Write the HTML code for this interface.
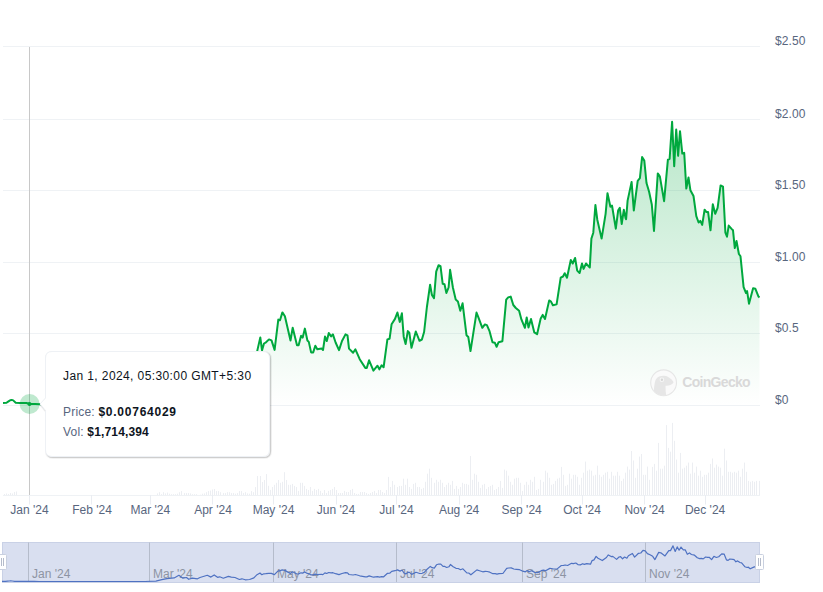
<!DOCTYPE html>
<html><head><meta charset="utf-8"><style>
html,body{margin:0;padding:0;background:#fff;width:823px;height:592px;overflow:hidden}
svg{display:block}
</style></head><body>
<svg width="823" height="592" viewBox="0 0 823 592">
<defs>
<linearGradient id="gf" x1="0" y1="120" x2="0" y2="406" gradientUnits="userSpaceOnUse">
<stop offset="0" stop-color="#00a83e" stop-opacity="0.28"/>
<stop offset="1" stop-color="#00a83e" stop-opacity="0"/>
</linearGradient>
<filter id="sh" x="-10%" y="-10%" width="120%" height="130%">
<feDropShadow dx="1" dy="2" stdDeviation="1.2" flood-color="#000" flood-opacity="0.18"/>
</filter>
</defs>
<rect width="823" height="592" fill="#fff"/>
<g stroke="#eff2f5" stroke-width="1"><line x1="3" x2="760" y1="405.5" y2="405.5"/><line x1="3" x2="760" y1="333.5" y2="333.5"/><line x1="3" x2="760" y1="262.5" y2="262.5"/><line x1="3" x2="760" y1="190.5" y2="190.5"/><line x1="3" x2="760" y1="119.5" y2="119.5"/><line x1="3" x2="760" y1="46.5" y2="46.5"/></g>
<g fill="#eceef2"><rect x="4" y="494" width="1" height="1"/><rect x="6" y="493.5" width="1" height="1.5"/><rect x="8" y="494" width="1" height="1"/><rect x="10" y="493" width="1" height="2"/><rect x="12" y="493.5" width="1" height="1.5"/><rect x="14" y="492" width="1" height="3"/><rect x="16" y="491.5" width="1" height="3.5"/><rect x="157" y="493.4" width="1" height="1.6"/><rect x="159" y="492.2" width="1" height="2.8"/><rect x="161" y="494.2" width="1" height="0.8"/><rect x="163" y="492.2" width="1" height="2.8"/><rect x="165" y="493.4" width="1" height="1.6"/><rect x="167" y="492.6" width="1" height="2.4"/><rect x="169" y="493.7" width="1" height="1.3"/><rect x="171" y="494.2" width="1" height="0.8"/><rect x="173" y="494.2" width="1" height="0.8"/><rect x="175" y="494.2" width="1" height="0.8"/><rect x="177" y="493.7" width="1" height="1.3"/><rect x="179" y="492.2" width="1" height="2.8"/><rect x="181" y="491.1" width="1" height="3.9"/><rect x="184" y="493.1" width="1" height="1.9"/><rect x="186" y="493.1" width="1" height="1.9"/><rect x="188" y="493.1" width="1" height="1.9"/><rect x="190" y="493.4" width="1" height="1.6"/><rect x="192" y="494.2" width="1" height="0.8"/><rect x="194" y="494.2" width="1" height="0.8"/><rect x="196" y="494.2" width="1" height="0.8"/><rect x="200" y="494.7" width="1" height="0.3"/><rect x="202" y="493.7" width="1" height="1.3"/><rect x="204" y="493.4" width="1" height="1.6"/><rect x="206" y="492.2" width="1" height="2.8"/><rect x="208" y="491.1" width="1" height="3.9"/><rect x="210" y="490.6" width="1" height="4.4"/><rect x="212" y="489.5" width="1" height="5.5"/><rect x="214" y="489" width="1" height="6"/><rect x="216" y="491.1" width="1" height="3.9"/><rect x="218" y="491.1" width="1" height="3.9"/><rect x="220" y="492.2" width="1" height="2.8"/><rect x="223" y="493.1" width="1" height="1.9"/><rect x="225" y="493.1" width="1" height="1.9"/><rect x="227" y="492.2" width="1" height="2.8"/><rect x="229" y="492.2" width="1" height="2.8"/><rect x="231" y="493.1" width="1" height="1.9"/><rect x="233" y="493.1" width="1" height="1.9"/><rect x="235" y="493.7" width="1" height="1.3"/><rect x="237" y="493.1" width="1" height="1.9"/><rect x="239" y="491.1" width="1" height="3.9"/><rect x="241" y="491.1" width="1" height="3.9"/><rect x="243" y="493.1" width="1" height="1.9"/><rect x="245" y="492.2" width="1" height="2.8"/><rect x="247" y="493.4" width="1" height="1.6"/><rect x="249" y="493.7" width="1" height="1.3"/><rect x="251" y="491.1" width="1" height="3.9"/><rect x="253" y="492.2" width="1" height="2.8"/><rect x="255" y="487.1" width="1" height="7.9"/><rect x="257" y="476" width="1" height="19"/><rect x="260" y="476" width="1" height="19"/><rect x="262" y="482" width="1" height="13"/><rect x="264" y="480" width="1" height="15"/><rect x="266" y="474.1" width="1" height="20.9"/><rect x="268" y="485.8" width="1" height="9.2"/><rect x="270" y="489.9" width="1" height="5.1"/><rect x="272" y="487" width="1" height="8"/><rect x="274" y="484.8" width="1" height="10.2"/><rect x="276" y="482.8" width="1" height="12.2"/><rect x="278" y="480" width="1" height="15"/><rect x="280" y="482.8" width="1" height="12.2"/><rect x="282" y="481.8" width="1" height="13.2"/><rect x="284" y="472.2" width="1" height="22.8"/><rect x="286" y="480" width="1" height="15"/><rect x="288" y="484.8" width="1" height="10.2"/><rect x="290" y="484.8" width="1" height="10.2"/><rect x="292" y="483.9" width="1" height="11.1"/><rect x="294" y="485.9" width="1" height="9.1"/><rect x="296" y="487" width="1" height="8"/><rect x="298" y="490.9" width="1" height="4.1"/><rect x="300" y="482.8" width="1" height="12.2"/><rect x="302" y="482.8" width="1" height="12.2"/><rect x="304" y="485.9" width="1" height="9.1"/><rect x="306" y="488.9" width="1" height="6.1"/><rect x="308" y="490" width="1" height="5"/><rect x="310" y="487" width="1" height="8"/><rect x="312" y="490.9" width="1" height="4.1"/><rect x="314" y="488.9" width="1" height="6.1"/><rect x="316" y="490" width="1" height="5"/><rect x="318" y="488.9" width="1" height="6.1"/><rect x="320" y="490.9" width="1" height="4.1"/><rect x="322" y="493" width="1" height="2"/><rect x="324" y="490" width="1" height="5"/><rect x="326" y="493" width="1" height="2"/><rect x="328" y="490.9" width="1" height="4.1"/><rect x="330" y="490" width="1" height="5"/><rect x="332" y="488.9" width="1" height="6.1"/><rect x="334" y="487" width="1" height="8"/><rect x="336" y="490" width="1" height="5"/><rect x="338" y="493" width="1" height="2"/><rect x="340" y="493" width="1" height="2"/><rect x="342" y="493" width="1" height="2"/><rect x="344" y="490.9" width="1" height="4.1"/><rect x="346" y="492" width="1" height="3"/><rect x="348" y="492" width="1" height="3"/><rect x="350" y="490" width="1" height="5"/><rect x="352" y="488.9" width="1" height="6.1"/><rect x="354" y="493" width="1" height="2"/><rect x="356" y="493.9" width="1" height="1.1"/><rect x="358" y="493.9" width="1" height="1.1"/><rect x="360" y="492" width="1" height="3"/><rect x="362" y="492" width="1" height="3"/><rect x="364" y="492" width="1" height="3"/><rect x="366" y="493" width="1" height="2"/><rect x="368" y="493.9" width="1" height="1.1"/><rect x="370" y="493" width="1" height="2"/><rect x="372" y="492" width="1" height="3"/><rect x="374" y="490.9" width="1" height="4.1"/><rect x="376" y="493" width="1" height="2"/><rect x="378" y="490" width="1" height="5"/><rect x="380" y="490" width="1" height="5"/><rect x="382" y="492" width="1" height="3"/><rect x="384" y="493" width="1" height="2"/><rect x="386" y="490" width="1" height="5"/><rect x="388" y="476.9" width="1" height="18.1"/><rect x="390" y="487" width="1" height="8"/><rect x="392" y="480.9" width="1" height="14.1"/><rect x="394" y="484.8" width="1" height="10.2"/><rect x="397" y="487" width="1" height="8"/><rect x="399" y="485.9" width="1" height="9.1"/><rect x="401" y="485.9" width="1" height="9.1"/><rect x="403" y="478.7" width="1" height="16.3"/><rect x="405" y="484.8" width="1" height="10.2"/><rect x="407" y="478.7" width="1" height="16.3"/><rect x="409" y="487" width="1" height="8"/><rect x="411" y="488.9" width="1" height="6.1"/><rect x="413" y="483.9" width="1" height="11.1"/><rect x="415" y="482.8" width="1" height="12.2"/><rect x="417" y="487" width="1" height="8"/><rect x="419" y="487" width="1" height="8"/><rect x="421" y="488.9" width="1" height="6.1"/><rect x="423" y="487.9" width="1" height="7.1"/><rect x="425" y="481.8" width="1" height="13.2"/><rect x="427" y="473.7" width="1" height="21.3"/><rect x="429" y="468.7" width="1" height="26.3"/><rect x="431" y="477.8" width="1" height="17.2"/><rect x="434" y="482.8" width="1" height="12.2"/><rect x="436" y="479.8" width="1" height="15.2"/><rect x="438" y="481.8" width="1" height="13.2"/><rect x="440" y="479.8" width="1" height="15.2"/><rect x="442" y="482.8" width="1" height="12.2"/><rect x="444" y="487" width="1" height="8"/><rect x="446" y="484.8" width="1" height="10.2"/><rect x="448" y="482.8" width="1" height="12.2"/><rect x="450" y="484.8" width="1" height="10.2"/><rect x="452" y="480.9" width="1" height="14.1"/><rect x="454" y="488.9" width="1" height="6.1"/><rect x="456" y="485.9" width="1" height="9.1"/><rect x="458" y="488.9" width="1" height="6.1"/><rect x="460" y="487" width="1" height="8"/><rect x="462" y="482.8" width="1" height="12.2"/><rect x="464" y="483.9" width="1" height="11.1"/><rect x="466" y="483.9" width="1" height="11.1"/><rect x="468" y="484.8" width="1" height="10.2"/><rect x="470" y="456" width="1" height="39"/><rect x="472" y="479.8" width="1" height="15.2"/><rect x="474" y="473.7" width="1" height="21.3"/><rect x="476" y="474.8" width="1" height="20.2"/><rect x="478" y="481.8" width="1" height="13.2"/><rect x="480" y="487.9" width="1" height="7.1"/><rect x="482" y="484.8" width="1" height="10.2"/><rect x="484" y="483.9" width="1" height="11.1"/><rect x="486" y="488.9" width="1" height="6.1"/><rect x="488" y="487" width="1" height="8"/><rect x="490" y="485.9" width="1" height="9.1"/><rect x="492" y="484.8" width="1" height="10.2"/><rect x="494" y="490" width="1" height="5"/><rect x="496" y="488.9" width="1" height="6.1"/><rect x="498" y="487" width="1" height="8"/><rect x="500" y="480.9" width="1" height="14.1"/><rect x="502" y="487.9" width="1" height="7.1"/><rect x="504" y="469.6" width="1" height="25.4"/><rect x="506" y="470.7" width="1" height="24.3"/><rect x="508" y="475.7" width="1" height="19.3"/><rect x="510" y="481.8" width="1" height="13.2"/><rect x="512" y="484.8" width="1" height="10.2"/><rect x="514" y="478.7" width="1" height="16.3"/><rect x="516" y="477.8" width="1" height="17.2"/><rect x="518" y="477.8" width="1" height="17.2"/><rect x="520" y="482.8" width="1" height="12.2"/><rect x="522" y="490.9" width="1" height="4.1"/><rect x="524" y="484.8" width="1" height="10.2"/><rect x="526" y="481.8" width="1" height="13.2"/><rect x="528" y="484.8" width="1" height="10.2"/><rect x="530" y="479.8" width="1" height="15.2"/><rect x="532" y="481.8" width="1" height="13.2"/><rect x="534" y="476.8" width="1" height="18.2"/><rect x="536" y="490" width="1" height="5"/><rect x="538" y="488.9" width="1" height="6.1"/><rect x="540" y="479.8" width="1" height="15.2"/><rect x="543" y="481.8" width="1" height="13.2"/><rect x="545" y="470.7" width="1" height="24.3"/><rect x="547" y="472.7" width="1" height="22.3"/><rect x="549" y="477.8" width="1" height="17.2"/><rect x="551" y="484.8" width="1" height="10.2"/><rect x="553" y="483.9" width="1" height="11.1"/><rect x="555" y="480.9" width="1" height="14.1"/><rect x="557" y="478.7" width="1" height="16.3"/><rect x="559" y="477.8" width="1" height="17.2"/><rect x="561" y="466.9" width="1" height="28.1"/><rect x="563" y="474.8" width="1" height="20.2"/><rect x="565" y="485.9" width="1" height="9.1"/><rect x="567" y="484.8" width="1" height="10.2"/><rect x="569" y="473.7" width="1" height="21.3"/><rect x="571" y="478.7" width="1" height="16.3"/><rect x="573" y="474.8" width="1" height="20.2"/><rect x="575" y="474.8" width="1" height="20.2"/><rect x="577" y="476.8" width="1" height="18.2"/><rect x="579" y="484.8" width="1" height="10.2"/><rect x="581" y="477.8" width="1" height="17.2"/><rect x="583" y="472.7" width="1" height="22.3"/><rect x="585" y="461.6" width="1" height="33.4"/><rect x="587" y="470.7" width="1" height="24.3"/><rect x="589" y="469.6" width="1" height="25.4"/><rect x="591" y="470.7" width="1" height="24.3"/><rect x="593" y="475.7" width="1" height="19.3"/><rect x="595" y="474.8" width="1" height="20.2"/><rect x="597" y="465.7" width="1" height="29.3"/><rect x="599" y="474.8" width="1" height="20.2"/><rect x="601" y="476.8" width="1" height="18.2"/><rect x="603" y="474.8" width="1" height="20.2"/><rect x="605" y="472.7" width="1" height="22.3"/><rect x="607" y="471.8" width="1" height="23.2"/><rect x="609" y="478.7" width="1" height="16.3"/><rect x="611" y="471.8" width="1" height="23.2"/><rect x="613" y="475.7" width="1" height="19.3"/><rect x="615" y="475.7" width="1" height="19.3"/><rect x="617" y="471.8" width="1" height="23.2"/><rect x="619" y="475.7" width="1" height="19.3"/><rect x="621" y="480.9" width="1" height="14.1"/><rect x="623" y="478.7" width="1" height="16.3"/><rect x="625" y="472.7" width="1" height="22.3"/><rect x="627" y="466.6" width="1" height="28.4"/><rect x="629" y="469.6" width="1" height="25.4"/><rect x="631" y="451" width="1" height="44"/><rect x="633" y="460.5" width="1" height="34.5"/><rect x="635" y="477.8" width="1" height="17.2"/><rect x="637" y="468.7" width="1" height="26.3"/><rect x="639" y="456.6" width="1" height="38.4"/><rect x="641" y="454" width="1" height="41"/><rect x="643" y="474.8" width="1" height="20.2"/><rect x="645" y="474.8" width="1" height="20.2"/><rect x="647" y="466.6" width="1" height="28.4"/><rect x="649" y="479.8" width="1" height="15.2"/><rect x="652" y="466.9" width="1" height="28.1"/><rect x="654" y="463.9" width="1" height="31.1"/><rect x="656" y="470.7" width="1" height="24.3"/><rect x="658" y="442.9" width="1" height="52.1"/><rect x="660" y="468.7" width="1" height="26.3"/><rect x="662" y="468.7" width="1" height="26.3"/><rect x="664" y="465.7" width="1" height="29.3"/><rect x="666" y="425.1" width="1" height="69.9"/><rect x="668" y="447.9" width="1" height="47.1"/><rect x="670" y="451.7" width="1" height="43.3"/><rect x="672" y="422.9" width="1" height="72.1"/><rect x="674" y="440.8" width="1" height="54.2"/><rect x="676" y="459.6" width="1" height="35.4"/><rect x="678" y="472.7" width="1" height="22.3"/><rect x="680" y="452.9" width="1" height="42.1"/><rect x="682" y="468.7" width="1" height="26.3"/><rect x="684" y="467.7" width="1" height="27.3"/><rect x="686" y="465.7" width="1" height="29.3"/><rect x="688" y="462.6" width="1" height="32.4"/><rect x="690" y="473.7" width="1" height="21.3"/><rect x="692" y="462.6" width="1" height="32.4"/><rect x="694" y="472.7" width="1" height="22.3"/><rect x="696" y="466.6" width="1" height="28.4"/><rect x="698" y="475.7" width="1" height="19.3"/><rect x="700" y="470.7" width="1" height="24.3"/><rect x="702" y="476.8" width="1" height="18.2"/><rect x="704" y="474.8" width="1" height="20.2"/><rect x="706" y="474.8" width="1" height="20.2"/><rect x="708" y="472.7" width="1" height="22.3"/><rect x="710" y="463.9" width="1" height="31.1"/><rect x="712" y="458.5" width="1" height="36.5"/><rect x="714" y="467.7" width="1" height="27.3"/><rect x="716" y="464.6" width="1" height="30.4"/><rect x="718" y="466.6" width="1" height="28.4"/><rect x="720" y="467.7" width="1" height="27.3"/><rect x="722" y="475.7" width="1" height="19.3"/><rect x="724" y="448.7" width="1" height="46.3"/><rect x="726" y="460.5" width="1" height="34.5"/><rect x="728" y="471.8" width="1" height="23.2"/><rect x="730" y="471.8" width="1" height="23.2"/><rect x="732" y="472.7" width="1" height="22.3"/><rect x="734" y="471.8" width="1" height="23.2"/><rect x="736" y="472.7" width="1" height="22.3"/><rect x="738" y="470.7" width="1" height="24.3"/><rect x="740" y="476.8" width="1" height="18.2"/><rect x="742" y="468.7" width="1" height="26.3"/><rect x="744" y="462.6" width="1" height="32.4"/><rect x="746" y="471.8" width="1" height="23.2"/><rect x="748" y="480.9" width="1" height="14.1"/><rect x="750" y="481.8" width="1" height="13.2"/><rect x="752" y="480.9" width="1" height="14.1"/><rect x="754" y="481.8" width="1" height="13.2"/><rect x="756" y="480.9" width="1" height="14.1"/><rect x="759" y="480.9" width="1" height="14.1"/></g>
<line x1="3" x2="760" y1="495.5" y2="495.5" stroke="#eff2f5" stroke-width="1"/>
<g stroke="#eaedf2" stroke-width="1"><line x1="29.5" x2="29.5" y1="495" y2="504.5"/><line x1="91.5" x2="91.5" y1="495" y2="504.5"/><line x1="150.5" x2="150.5" y1="495" y2="504.5"/><line x1="212.5" x2="212.5" y1="495" y2="504.5"/><line x1="273.5" x2="273.5" y1="495" y2="504.5"/><line x1="336.5" x2="336.5" y1="495" y2="504.5"/><line x1="396.5" x2="396.5" y1="495" y2="504.5"/><line x1="459.5" x2="459.5" y1="495" y2="504.5"/><line x1="521.5" x2="521.5" y1="495" y2="504.5"/><line x1="582.5" x2="582.5" y1="495" y2="504.5"/><line x1="644.5" x2="644.5" y1="495" y2="504.5"/><line x1="705.5" x2="705.5" y1="495" y2="504.5"/></g>
<g font-family="Liberation Sans, sans-serif" font-size="12" fill="#58667e" letter-spacing="0.1"><text x="775" y="404">$0</text><text x="775" y="332">$0.5</text><text x="775" y="261">$1.00</text><text x="775" y="189">$1.50</text><text x="775" y="118">$2.00</text><text x="775" y="45">$2.50</text></g>
<g font-family="Liberation Sans, sans-serif" font-size="12" fill="#58667e" text-anchor="middle"><text x="29.4" y="514">Jan '24</text><text x="92" y="514">Feb '24</text><text x="150.4" y="514">Mar '24</text><text x="213" y="514">Apr '24</text><text x="273.5" y="514">May '24</text><text x="336" y="514">Jun '24</text><text x="396.5" y="514">Jul '24</text><text x="459.1" y="514">Aug '24</text><text x="521.6" y="514">Sep '24</text><text x="582.1" y="514">Oct '24</text><text x="644.6" y="514">Nov '24</text><text x="705.1" y="514">Dec '24</text></g>
<path d="M3 403 L6.5 402.8 L8.5 401.4 L10.2 400.2 L11.7 399.9 L13.2 400.4 L15.7 402.8 L20 403 L26.5 403 L29.5 404 L35 404 L40 404.2 L60 404.5 L100 404.5 L145.6 404.5 L156.5 401.3 L162.3 390.2 L167.4 381.5 L174.7 375.9 L179.4 355.3 L183.4 378.3 L187 372.7 L189.2 387 L192.9 377.5 L197.9 383.1 L200.4 372.7 L207.7 355.3 L211.3 369.6 L214.6 352.1 L217.9 371.2 L220.1 367.2 L223.7 378.3 L228.7 364 L231.6 369.6 L235.3 372.7 L239.7 388.6 L242.2 383.1 L245.5 391 L249.9 388.6 L254.2 375.9 L257.3 350.6 L260.3 337.4 L262 350.4 L264 343.5 L266 342.3 L269 339.4 L271.5 340.4 L274.6 349.9 L278.3 319.6 L280 320.2 L282.4 312.4 L284.9 316.2 L290.5 340.5 L292.7 327.7 L297 345.3 L298.6 345.3 L301.1 335.8 L302.7 337.6 L304.9 328.6 L307.4 340.5 L308.8 341.9 L311.1 352.4 L313.2 352.4 L315.3 345.7 L317.3 349.3 L321.6 348.4 L323 350 L325 336.6 L326.8 341 L328.8 333 L331.1 336.4 L332.9 334.4 L335.6 342.5 L339 350.1 L342 341 L345.5 334.4 L347.5 335.3 L349 348.6 L353.1 352.7 L355.4 349.3 L359.7 359.2 L365.3 367.9 L366.8 367.9 L369.1 360.3 L373.4 370.6 L377.5 365.7 L379.4 369.4 L381.6 365.3 L383.6 367.3 L387.4 339.4 L389.6 338.7 L391.6 324.2 L395 318.9 L397.4 312.5 L399.8 321.9 L401.9 313.3 L403.7 336.7 L405.6 344.1 L407.8 331.1 L409.3 332.6 L411.5 347.8 L415.8 331.5 L419.5 340.8 L421.9 339.5 L424.1 332 L426.9 307 L430.1 284.7 L431.9 294.9 L434 298.1 L436.2 271.7 L438.6 265.2 L440.5 266.1 L442.7 283.8 L444.5 284.3 L446.4 293 L448.6 287.5 L450.1 269.8 L452.9 287.5 L455.7 299.5 L457.9 301.4 L460.3 310.7 L462.6 303.3 L466.5 335.2 L468.3 337 L470.5 351.1 L476.5 312.6 L478.3 317.1 L482.3 327.8 L484.9 324.4 L486.9 325.1 L489.4 330.8 L492.5 342.2 L494.8 342.7 L496.6 346.8 L498.6 342.2 L502.4 341.2 L506.2 299.7 L508.2 297.4 L510.7 296.6 L513.3 305 L515.8 308 L519.1 310.8 L521.4 319.4 L524.9 327.8 L526.7 317.5 L528.5 327.5 L531 319 L534.3 332.4 L537.1 334.2 L540.7 318.4 L542.7 314.9 L545 319 L549.2 300.4 L551 301.6 L552.9 305.3 L556.6 304.4 L560.7 277.7 L563 276.5 L564.7 273.2 L567 277.7 L570.8 259.9 L572.7 263.5 L575.1 258 L577.2 270.6 L579.6 273 L582 263.5 L583.6 268.9 L586 263.5 L589.8 267.5 L591.4 238.6 L593.3 232.7 L595.4 205 L597.3 219.7 L601.6 238.6 L605.6 213.8 L607.5 193.2 L610.4 206.7 L612 205.5 L615.8 228.7 L618.2 210.2 L619.8 207.9 L621.7 224 L623.8 209.8 L625.7 218.5 L626.1 219.2 L627.6 200.6 L631.6 181.9 L633.8 210.5 L637.7 180.8 L639.9 178.2 L642.1 157.1 L644.3 160.6 L646.5 183 L649.1 191.8 L651.8 204.5 L654 230.9 L657.8 173.4 L659.9 176.6 L664.1 201.2 L667.9 159.6 L669.6 159 L672.1 121.7 L674.2 166.3 L676.2 129.6 L678.1 155.8 L680 131.2 L682.3 153.6 L684.2 152.8 L686.3 188.6 L688.5 177.5 L690.4 190.2 L693.5 196 L696.3 216.1 L698.6 222.5 L700.3 220.9 L702.2 224.9 L704.6 209.7 L706.5 212.1 L708.1 212.1 L710.5 230.3 L712.8 204.3 L715.2 213.8 L717.6 207.9 L720.6 185.4 L723 186.6 L725.4 232.7 L727 236.7 L728.7 225.6 L731.8 229.1 L733 230.3 L734.8 248.1 L736.5 241 L738.9 254 L740.5 256.3 L743.6 287.1 L746 293 L747.1 291.1 L749 303.7 L753.1 288.3 L755.4 288.8 L758.5 296.6 L759.5 297.5 L759.5 405.3 L3 405.3 Z" fill="url(#gf)"/>
<defs><clipPath id="lc"><circle cx="663.6" cy="382.8" r="12.6"/></clipPath></defs>
<circle cx="663.6" cy="382.8" r="12.9" fill="#fafafa" stroke="#e6e6e6" stroke-width="1.1"/>
<path clip-path="url(#lc)" d="M653.5 398 C653.8 390 654.2 383 655.8 379.5 C657.5 376.5 661 375.6 664.5 375.8 C666.5 375.9 667.5 376.6 668.5 377.3 C670.5 378.4 672.5 380.2 673.6 382.2 C672.6 384.3 669.8 385.6 666.5 385.8 L665.6 385.8 C665.4 389.5 665.8 393.5 666.6 398 Z" fill="#e6e6e6"/>
<circle cx="661.9" cy="379.8" r="2.3" fill="#f6f6f6"/>
<circle cx="661.9" cy="379.8" r="1.2" fill="#d6d6d6"/>
<text x="682.3" y="387" font-family="Liberation Sans, sans-serif" font-size="14" font-weight="bold" fill="#d9d9d9" letter-spacing="-0.7">CoinGecko</text>
<path d="M3 403 L6.5 402.8 L8.5 401.4 L10.2 400.2 L11.7 399.9 L13.2 400.4 L15.7 402.8 L20 403 L26.5 403 L29.5 404 L35 404 L40 404.2 L60 404.5 L100 404.5 L145.6 404.5 L156.5 401.3 L162.3 390.2 L167.4 381.5 L174.7 375.9 L179.4 355.3 L183.4 378.3 L187 372.7 L189.2 387 L192.9 377.5 L197.9 383.1 L200.4 372.7 L207.7 355.3 L211.3 369.6 L214.6 352.1 L217.9 371.2 L220.1 367.2 L223.7 378.3 L228.7 364 L231.6 369.6 L235.3 372.7 L239.7 388.6 L242.2 383.1 L245.5 391 L249.9 388.6 L254.2 375.9 L257.3 350.6 L260.3 337.4 L262 350.4 L264 343.5 L266 342.3 L269 339.4 L271.5 340.4 L274.6 349.9 L278.3 319.6 L280 320.2 L282.4 312.4 L284.9 316.2 L290.5 340.5 L292.7 327.7 L297 345.3 L298.6 345.3 L301.1 335.8 L302.7 337.6 L304.9 328.6 L307.4 340.5 L308.8 341.9 L311.1 352.4 L313.2 352.4 L315.3 345.7 L317.3 349.3 L321.6 348.4 L323 350 L325 336.6 L326.8 341 L328.8 333 L331.1 336.4 L332.9 334.4 L335.6 342.5 L339 350.1 L342 341 L345.5 334.4 L347.5 335.3 L349 348.6 L353.1 352.7 L355.4 349.3 L359.7 359.2 L365.3 367.9 L366.8 367.9 L369.1 360.3 L373.4 370.6 L377.5 365.7 L379.4 369.4 L381.6 365.3 L383.6 367.3 L387.4 339.4 L389.6 338.7 L391.6 324.2 L395 318.9 L397.4 312.5 L399.8 321.9 L401.9 313.3 L403.7 336.7 L405.6 344.1 L407.8 331.1 L409.3 332.6 L411.5 347.8 L415.8 331.5 L419.5 340.8 L421.9 339.5 L424.1 332 L426.9 307 L430.1 284.7 L431.9 294.9 L434 298.1 L436.2 271.7 L438.6 265.2 L440.5 266.1 L442.7 283.8 L444.5 284.3 L446.4 293 L448.6 287.5 L450.1 269.8 L452.9 287.5 L455.7 299.5 L457.9 301.4 L460.3 310.7 L462.6 303.3 L466.5 335.2 L468.3 337 L470.5 351.1 L476.5 312.6 L478.3 317.1 L482.3 327.8 L484.9 324.4 L486.9 325.1 L489.4 330.8 L492.5 342.2 L494.8 342.7 L496.6 346.8 L498.6 342.2 L502.4 341.2 L506.2 299.7 L508.2 297.4 L510.7 296.6 L513.3 305 L515.8 308 L519.1 310.8 L521.4 319.4 L524.9 327.8 L526.7 317.5 L528.5 327.5 L531 319 L534.3 332.4 L537.1 334.2 L540.7 318.4 L542.7 314.9 L545 319 L549.2 300.4 L551 301.6 L552.9 305.3 L556.6 304.4 L560.7 277.7 L563 276.5 L564.7 273.2 L567 277.7 L570.8 259.9 L572.7 263.5 L575.1 258 L577.2 270.6 L579.6 273 L582 263.5 L583.6 268.9 L586 263.5 L589.8 267.5 L591.4 238.6 L593.3 232.7 L595.4 205 L597.3 219.7 L601.6 238.6 L605.6 213.8 L607.5 193.2 L610.4 206.7 L612 205.5 L615.8 228.7 L618.2 210.2 L619.8 207.9 L621.7 224 L623.8 209.8 L625.7 218.5 L626.1 219.2 L627.6 200.6 L631.6 181.9 L633.8 210.5 L637.7 180.8 L639.9 178.2 L642.1 157.1 L644.3 160.6 L646.5 183 L649.1 191.8 L651.8 204.5 L654 230.9 L657.8 173.4 L659.9 176.6 L664.1 201.2 L667.9 159.6 L669.6 159 L672.1 121.7 L674.2 166.3 L676.2 129.6 L678.1 155.8 L680 131.2 L682.3 153.6 L684.2 152.8 L686.3 188.6 L688.5 177.5 L690.4 190.2 L693.5 196 L696.3 216.1 L698.6 222.5 L700.3 220.9 L702.2 224.9 L704.6 209.7 L706.5 212.1 L708.1 212.1 L710.5 230.3 L712.8 204.3 L715.2 213.8 L717.6 207.9 L720.6 185.4 L723 186.6 L725.4 232.7 L727 236.7 L728.7 225.6 L731.8 229.1 L733 230.3 L734.8 248.1 L736.5 241 L738.9 254 L740.5 256.3 L743.6 287.1 L746 293 L747.1 291.1 L749 303.7 L753.1 288.3 L755.4 288.8 L758.5 296.6 L759.5 297.5" fill="none" stroke="#00a83e" stroke-width="2" stroke-linejoin="round" stroke-linecap="butt"/>
<line x1="29.5" x2="29.5" y1="47" y2="495" stroke="#c8c8c8" stroke-width="1"/>
<circle cx="29.6" cy="404" r="10" fill="#00a83e" fill-opacity="0.25"/>
<circle cx="29.5" cy="404" r="2" fill="#00a83e"/>
<g fill="none" transform="translate(1 1)">
<path d="M52 351.5 H263 Q269.5 351.5 269.5 358 V450 Q269.5 456.5 263 456.5 H52 Q45.5 456.5 45.5 450 V410.5 L40 404 L45.5 398 V358 Q45.5 351.5 52 351.5 Z" stroke="#000" stroke-opacity="0.05" stroke-width="3"/>
<path d="M52 351.5 H263 Q269.5 351.5 269.5 358 V450 Q269.5 456.5 263 456.5 H52 Q45.5 456.5 45.5 450 V410.5 L40 404 L45.5 398 V358 Q45.5 351.5 52 351.5 Z" stroke="#000" stroke-opacity="0.15" stroke-width="1.2"/>
</g>
<path d="M52 351.5 H263 Q269.5 351.5 269.5 358 V450 Q269.5 456.5 263 456.5 H52 Q45.5 456.5 45.5 450 V410.5 L40 404 L45.5 398 V358 Q45.5 351.5 52 351.5 Z" fill="#fff" stroke="#eef1f5" stroke-width="1"/>
<g font-family="Liberation Sans, sans-serif" font-size="12">
<text x="63" y="380" fill="#0d1421" letter-spacing="0.4">Jan 1, 2024, 05:30:00 GMT+5:30</text>
<text x="63" y="416" fill="#58667e" letter-spacing="0.2">Price: <tspan font-weight="bold" fill="#0d1421" letter-spacing="0.75">$0.00764029</tspan></text>
<text x="63" y="436" fill="#58667e" letter-spacing="0.2">Vol: <tspan font-weight="bold" fill="#0d1421" letter-spacing="0.15">$1,714,394</tspan></text>
</g>
<rect x="2.5" y="542.5" width="757" height="40" fill="#d9dff0" stroke="#c9d1e6" stroke-width="1"/>
<g stroke="#b5bccb" stroke-width="1"><line x1="28.5" x2="28.5" y1="542.5" y2="582"/><line x1="149.5" x2="149.5" y1="542.5" y2="582"/><line x1="273.5" x2="273.5" y1="542.5" y2="582"/><line x1="396.5" x2="396.5" y1="542.5" y2="582"/><line x1="522.5" x2="522.5" y1="542.5" y2="582"/><line x1="645.5" x2="645.5" y1="542.5" y2="582"/></g>
<g font-family="Liberation Sans, sans-serif" font-size="12" fill="#8d94a3"><text x="32" y="578">Jan '24</text><text x="153" y="578">Mar '24</text><text x="277" y="578">May '24</text><text x="400" y="578">Jul '24</text><text x="526" y="578">Sep '24</text><text x="649" y="578">Nov '24</text></g>
<path d="M2 581.3 L5.5 581.3 L7.5 581.1 L9.2 581 L10.7 580.9 L12.2 581 L14.7 581.3 L19 581.3 L25.6 581.3 L28.6 581.4 L34.1 581.4 L39.1 581.5 L59.2 581.5 L99.3 581.5 L145 581.5 L155.9 581.1 L161.8 579.7 L166.9 578.6 L174.2 577.9 L178.9 575.3 L182.9 578.2 L186.5 577.5 L188.7 579.3 L192.4 578.1 L197.5 578.8 L200 577.5 L207.3 575.3 L210.9 577.1 L214.2 574.9 L217.5 577.3 L219.7 576.8 L223.3 578.2 L228.4 576.4 L231.3 577.1 L235 577.5 L239.4 579.5 L241.9 578.8 L245.2 579.8 L249.6 579.5 L253.9 577.9 L257 574.7 L260 573 L261.8 574.7 L263.8 573.8 L265.8 573.7 L268.8 573.3 L271.3 573.4 L274.4 574.6 L278.1 570.8 L279.8 570.9 L282.2 569.9 L284.7 570.4 L290.3 573.4 L292.5 571.8 L296.9 574 L298.5 574 L301 572.8 L302.6 573.1 L304.8 571.9 L307.3 573.4 L308.7 573.6 L311 574.9 L313.1 574.9 L315.2 574.1 L317.2 574.5 L321.5 574.4 L322.9 574.6 L324.9 572.9 L326.7 573.5 L328.7 572.5 L331.1 572.9 L332.9 572.7 L335.6 573.7 L339 574.6 L342 573.5 L345.5 572.7 L347.5 572.8 L349 574.5 L353.1 575 L355.4 574.5 L359.7 575.8 L365.4 576.9 L366.9 576.9 L369.2 575.9 L373.5 577.2 L377.6 576.6 L379.5 577.1 L381.7 576.6 L383.7 576.8 L387.5 573.3 L389.7 573.2 L391.7 571.4 L395.1 570.7 L397.5 569.9 L400 571.1 L402.1 570 L403.9 573 L405.8 573.9 L408 572.3 L409.5 572.4 L411.7 574.4 L416 572.3 L419.7 573.5 L422.1 573.3 L424.3 572.4 L427.1 569.2 L430.3 566.4 L432.1 567.7 L434.3 568.1 L436.5 564.8 L438.9 564 L440.8 564.1 L443 566.3 L444.8 566.4 L446.7 567.5 L448.9 566.8 L450.4 564.5 L453.2 566.8 L456 568.3 L458.2 568.5 L460.6 569.7 L462.9 568.8 L466.8 572.8 L468.7 573 L470.9 574.8 L476.9 569.9 L478.7 570.5 L482.7 571.8 L485.3 571.4 L487.3 571.5 L489.8 572.2 L492.9 573.7 L495.2 573.7 L497 574.2 L499 573.7 L502.9 573.5 L506.7 568.3 L508.7 568 L511.2 567.9 L513.8 569 L516.3 569.3 L519.6 569.7 L521.9 570.8 L525.4 571.8 L527.2 570.5 L529 571.8 L531.5 570.7 L534.8 572.4 L537.7 572.6 L541.3 570.7 L543.3 570.2 L545.6 570.7 L549.8 568.4 L551.6 568.5 L553.5 569 L557.2 568.9 L561.3 565.5 L563.6 565.4 L565.3 565 L567.6 565.5 L571.5 563.3 L573.4 563.7 L575.8 563 L577.9 564.6 L580.3 564.9 L582.7 563.7 L584.3 564.4 L586.7 563.7 L590.5 564.2 L592.1 560.6 L594 559.9 L596.1 556.4 L598 558.2 L602.3 560.6 L606.4 557.5 L608.3 554.9 L611.2 556.6 L612.8 556.4 L616.6 559.4 L619 557 L620.6 556.7 L622.5 558.8 L624.6 557 L626.5 558.1 L626.9 558.2 L628.4 555.8 L632.4 553.5 L634.6 557.1 L638.5 553.3 L640.8 553 L643 550.3 L645.2 550.8 L647.4 553.6 L650 554.7 L652.7 556.3 L654.9 559.6 L658.7 552.4 L660.8 552.8 L665 555.9 L668.8 550.7 L670.5 550.6 L673 545.9 L675.2 551.5 L677.2 546.9 L679.1 550.2 L681 547.1 L683.3 549.9 L685.2 549.8 L687.3 554.3 L689.5 552.9 L691.4 554.5 L694.5 555.2 L697.3 557.8 L699.6 558.6 L701.3 558.4 L703.2 558.9 L705.6 557 L707.6 557.3 L709.2 557.3 L711.6 559.6 L713.9 556.3 L716.3 557.5 L718.7 556.7 L721.7 553.9 L724.1 554.1 L726.5 559.9 L728.1 560.4 L729.8 559 L732.9 559.4 L734.1 559.6 L735.9 561.8 L737.6 560.9 L740 562.5 L741.6 562.8 L744.8 566.7 L747.2 567.5 L748.3 567.2 L750.2 568.8 L754.3 566.9 L756.6 566.9 L759.7 567.9 L760.7 568" fill="none" stroke="#4f72c2" stroke-width="1.2" stroke-linejoin="round"/>
<g fill="#fff" stroke="#c9d0df" stroke-width="1">
<rect x="-1.5" y="554.5" width="8" height="15" rx="1"/>
<rect x="755.5" y="554.5" width="8" height="15" rx="1"/>
</g>
<g stroke="#b5bccb" stroke-width="1">
<line x1="1.5" x2="1.5" y1="558" y2="566"/><line x1="3.5" x2="3.5" y1="558" y2="566"/>
<line x1="758.5" x2="758.5" y1="558" y2="566"/><line x1="760.5" x2="760.5" y1="558" y2="566"/>
</g>
</svg>
</body></html>
